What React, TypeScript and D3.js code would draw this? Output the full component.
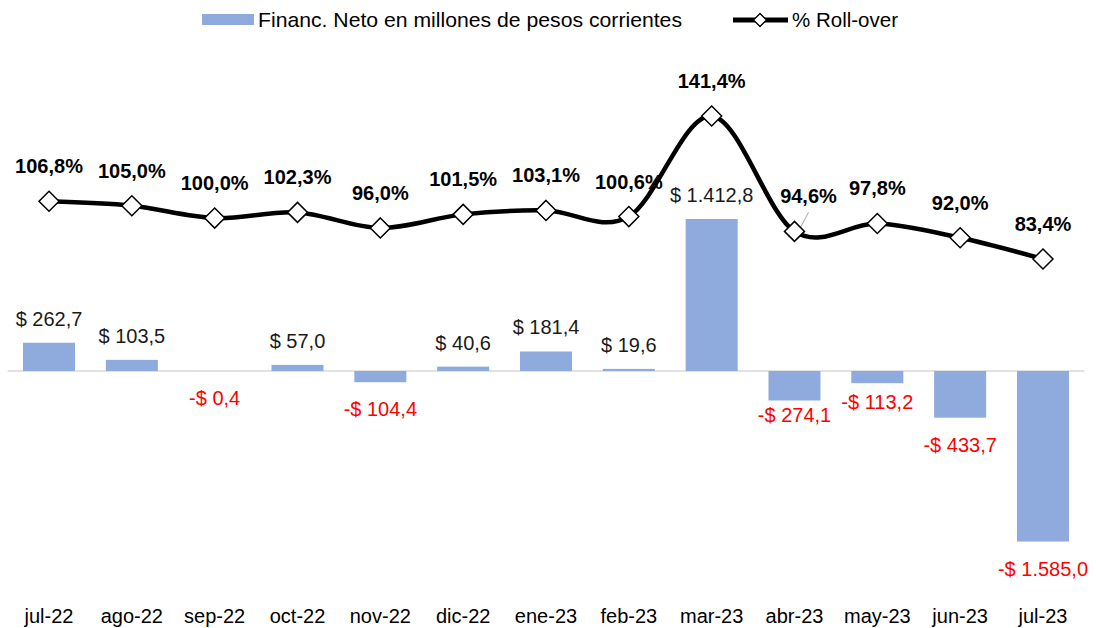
import React from "react";
import * as d3 from "d3";

const categories = ["jul-22","ago-22","sep-22","oct-22","nov-22","dic-22","ene-23","feb-23","mar-23","abr-23","may-23","jun-23","jul-23"];
const financValues = [262.7, 103.5, -0.4, 57.0, -104.4, 40.6, 181.4, 19.6, 1412.8, -274.1, -113.2, -433.7, -1585.0];
const rollover = [106.8, 105.0, 100.0, 102.3, 96.0, 101.5, 103.1, 100.6, 141.4, 94.6, 97.8, 92.0, 83.4];
// manual label nudges (Excel-moved labels)
const negLabelGap = [34, 34, 34, 34, 34, 34, 34, 34, 34, 22, 26, 34, 34];
const pctLabelDx = [0, 0, 0, 0, 0, 0, 0, 0, 0, 14, 0, 0, 0];

const W = 1096, H = 628;
const FONT = "Arial, 'Liberation Sans', Helvetica, sans-serif";

const fmtNum = (v: number) => {
  const s = d3.format(",.1f")(Math.abs(v)).replace(/,/g, "#").replace(".", ",").replace(/#/g, ".");
  return (v < 0 ? "-$ " : "$ ") + s;
};
const fmtPct = (v: number) => d3.format(".1f")(v).replace(".", ",") + "%";

export default function App() {
  const x = d3.scaleBand<string>().domain(categories).range([7.6, 1084.4]).padding(0);
  const k = 152 / 1412.8;
  const yBar = d3.scaleLinear().domain([-1600, 1600]).range([371 + 1600 * k, 371 - 1600 * k]);
  const s = (259 - 116) / (141.4 - 83.4);
  const yLine = d3.scaleLinear().domain([80, 145]).range([259 + 3.4 * s, 259 - (145 - 83.4) * s]);
  const bw = 52;
  const cx = (c: string) => (x(c) as number) + x.bandwidth() / 2;

  const line = d3.line<number>()
    .x((_, i) => cx(categories[i]))
    .y((d) => yLine(d))
    .curve(d3.curveCatmullRom.alpha(0));

  const diamond = (px: number, py: number, r: number) =>
    `M${px},${py - r}L${px + r},${py}L${px},${py + r}L${px - r},${py}Z`;

  return (
    <svg width={W} height={H} style={{ position: "absolute", left: 0, top: 0, background: "#fff" }} fontFamily={FONT}>
      {/* legend */}
      <rect x={202} y={14} width={52} height={11} fill="#8FAADC" />
      <text x={258} y={27} fontSize={21} fill="#000" textLength={424} lengthAdjust="spacingAndGlyphs">Financ. Neto en millones de pesos corrientes</text>
      <line x1={733} x2={788} y1={20} y2={20} stroke="#000" strokeWidth={5} />
      <path d={diamond(760, 20, 6.5)} fill="#fff" stroke="#000" strokeWidth={1.3} />
      <text x={792} y={27} fontSize={21} fill="#000" textLength={106} lengthAdjust="spacingAndGlyphs">% Roll-over</text>

      {/* zero line */}
      <line x1={7.6} x2={1084.4} y1={yBar(0)} y2={yBar(0)} stroke="#D9D9D9" strokeWidth={1.5} />

      {/* bars */}
      {financValues.map((v, i) => (
        <rect key={"b" + i} x={cx(categories[i]) - bw / 2} width={bw}
          y={Math.min(yBar(v), yBar(0))} height={Math.abs(yBar(v) - yBar(0))} fill="#8FAADC" />
      ))}
      {financValues.map((v, i) => (
        <text key={"bl" + i} x={cx(categories[i])}
          y={v >= 0 ? yBar(v) - 17 : yBar(v) + negLabelGap[i]}
          textAnchor="middle" fontSize={20} fill={v >= 0 ? "#1a1a1a" : "#FF0000"}>
          {fmtNum(v)}
        </text>
      ))}

      {/* line */}
      <path d={line(rollover) as string} fill="none" stroke="#000" strokeWidth={4.5} strokeLinejoin="round" />
      {/* leader line for abr-23 */}
      <line x1={cx(categories[9]) + 5} y1={yLine(rollover[9]) - 2} x2={cx(categories[9]) + 14} y2={yLine(rollover[9]) - 19} stroke="#A6A6A6" strokeWidth={1} />
      {rollover.map((v, i) => (
        <path key={"m" + i} d={diamond(cx(categories[i]), yLine(v), 10)} fill="#fff" stroke="#000" strokeWidth={1.5} />
      ))}
      {rollover.map((v, i) => (
        <text key={"pl" + i} x={cx(categories[i]) + pctLabelDx[i]} y={yLine(v) - 28}
          textAnchor="middle" fontSize={20} fontWeight="bold" fill="#000">
          {fmtPct(v)}
        </text>
      ))}

      {/* x axis labels */}
      {categories.map((c) => (
        <text key={c} x={cx(c)} y={623} textAnchor="middle" fontSize={20} fill="#000">{c}</text>
      ))}
    </svg>
  );
}
